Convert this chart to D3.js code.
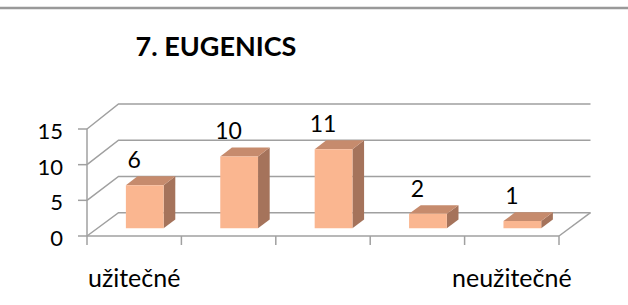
<!DOCTYPE html>
<html>
<head>
<meta charset="utf-8">
<script src="https://cdn.jsdelivr.net/npm/d3@7"></script>
<style>
  body { margin: 0; background: #fff; }
  text { font-family: Lato, "Open Sans", sans-serif; fill: #000; }
</style>
</head>
<body>
<script>
const categories = ["užitečné", "", "", "", "neužitečné"]
const values = [6, 10, 11, 2, 1]
const yTicks = [0, 5, 10, 15]
const title = "7. EUGENICS"

const width = 628
const height = 305

const svg = d3.select("body").append("svg")
    .attr("width", width)
    .attr("height", height)

// rule at the top of the page
svg.append("line")
    .attr("x1", 0).attr("x2", width)
    .attr("y1", 8).attr("y2", 8)
    .attr("stroke", "#999")
    .attr("stroke-width", 2.5)

svg.append("text")
    .attr("x", 216).attr("y", 56)
    .attr("text-anchor", "middle")
    .style("font-weight", "bold")
    .style("font-size", "27px")
    .text(title)

// 3d frame: front plane and back plane of the box
const depthX = 31.5
const x = d3.scaleBand().domain(d3.range(categories.length)).range([87, 559]).paddingInner(0).paddingOuter(0)
const yFront = d3.scaleLinear().domain([0, 15]).range([236, 129])
const yBack = d3.scaleLinear().domain([0, 15]).range([212.7, 104])

const proj = (px, v, d) => [px + d * depthX, yFront(v) * (1 - d) + yBack(v) * d]

const grid = "#a0a0a0"
const g = svg.append("g")

// back wall and left wall gridlines
yTicks.forEach(t => {
    const a = proj(x.range()[0], t, 0)
    const b = proj(x.range()[0], t, 1)
    const c = proj(x.range()[1], t, 1)
    g.append("polyline")
        .attr("points", [a, b, c].map(p => p.join(",")).join(" "))
        .attr("fill", "none")
        .attr("stroke", grid)
        .attr("stroke-width", 1.5)
})

// floor right edge
const fr0 = proj(x.range()[1], 0, 0)
const fr1 = proj(x.range()[1], 0, 1)
g.append("line")
    .attr("x1", fr0[0]).attr("y1", fr0[1])
    .attr("x2", fr1[0]).attr("y2", fr1[1])
    .attr("stroke", grid).attr("stroke-width", 1.5)

// value axis (front left)
g.append("line")
    .attr("x1", 87).attr("x2", 87)
    .attr("y1", yFront(15)).attr("y2", yFront(0))
    .attr("stroke", grid).attr("stroke-width", 1.5)

g.selectAll(".ytick").data(yTicks).enter().append("line")
    .attr("x1", 78).attr("x2", 87)
    .attr("y1", d => yFront(d)).attr("y2", d => yFront(d))
    .attr("stroke", grid).attr("stroke-width", 1.5)

svg.selectAll(".ylab").data(yTicks).enter().append("text")
    .attr("x", 63)
    .attr("y", d => yFront(d) + 10)
    .attr("text-anchor", "end")
    .style("font-size", "22px")
    .text(d => d)

// category axis (front floor edge)
g.append("line")
    .attr("x1", x.range()[0]).attr("x2", x.range()[1])
    .attr("y1", yFront(0)).attr("y2", yFront(0))
    .attr("stroke", grid).attr("stroke-width", 1.5)

const bounds = d3.range(categories.length + 1).map(i => x.range()[0] + i * x.bandwidth())
g.selectAll(".xtick").data(bounds).enter().append("line")
    .attr("x1", d => d).attr("x2", d => d)
    .attr("y1", yFront(0)).attr("y2", yFront(0) + 9)
    .attr("stroke", grid).attr("stroke-width", 1.5)

svg.selectAll(".xlab").data(categories).enter().append("text")
    .attr("x", (d, i) => x(i) + x.bandwidth() / 2)
    .attr("y", 287)
    .attr("text-anchor", "middle")
    .style("font-size", "25px")
    .text(d => d)

// bars
const barW = x.bandwidth() * 0.4
const d0 = 0.335
const d1 = 0.705
const pts = arr => arr.map(p => p.join(",")).join(" ")

const bars = svg.append("g").selectAll("g").data(values).enter().append("g")

bars.each(function (v, i) {
    const gb = d3.select(this)
    const l = x(i) + (x.bandwidth() - barW) / 2
    const r = l + barW
    const fbl = proj(l, 0, d0), fbr = proj(r, 0, d0)
    const ftl = proj(l, v, d0), ftr = proj(r, v, d0)
    const btl = proj(l, v, d1), btr = proj(r, v, d1)
    const bbr = proj(r, 0, d1)
    gb.append("polygon").attr("points", pts([fbr, ftr, btr, bbr])).attr("fill", "#a5735b")
    gb.append("polygon").attr("points", pts([ftl, ftr, btr, btl])).attr("fill", "#c68b6d")
    gb.append("polygon").attr("points", pts([fbl, fbr, ftr, ftl])).attr("fill", "#fab690")
    gb.append("text")
        .attr("x", (l + r) / 2)
        .attr("y", btl[1] - 8)
        .attr("text-anchor", "middle")
        .style("font-size", "23px")
        .text(v)
})
</script>
</body>
</html>
